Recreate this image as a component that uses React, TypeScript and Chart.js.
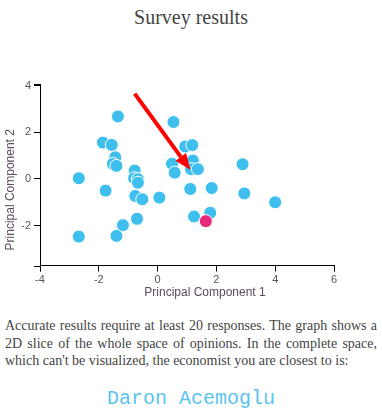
import React, { useEffect, useRef } from "react";
import { Chart, registerables } from "chart.js";

Chart.register(...registerables);

const BLUE_X = [-1.35, 0.54, -1.86, -1.56, -1.44, -1.52, -1.40, -2.68, -0.78, -0.80, -0.67, -0.67, -1.77, -0.76, -0.52, 0.06, -0.70, -1.18, -2.68, -1.40, 0.94, 1.18, 1.20, 0.49, 0.58, 1.14, 1.37, 1.11, 1.84, 2.89, 2.95, 4.00, 1.24, 1.79];
const BLUE_Y = [2.68, 2.44, 1.56, 1.46, 0.93, 0.65, 0.56, 0.03, 0.36, 0.03, -0.01, -0.16, -0.50, -0.73, -0.87, -0.80, -1.71, -1.98, -2.47, -2.44, 1.39, 1.45, 0.79, 0.65, 0.27, 0.42, 0.42, -0.43, -0.39, 0.63, -0.62, -1.00, -1.61, -1.45];
const PINK_X = [1.64];
const PINK_Y = [-1.81];
const ARROW_FROM = [-0.78, 3.66];
const ARROW_TO = [1.11, 0.39];
const X_TICKS = [-4, -2, 0, 2, 4, 6];
const Y_TICKS = [-2, 0, 2, 4];
const X_RANGE = [-4, 6];
const Y_RANGE = [-3.71, 4.07];
const X_TITLE = "Principal Component 1";
const Y_TITLE = "Principal Component 2";

const decorPlugin = {
  id: "decor",
  afterDatasetsDraw(chart: any) {
    const { ctx, scales } = chart;
    const xs = scales.x, ys = scales.y;
    const x1 = xs.getPixelForValue(ARROW_FROM[0]);
    const y1 = ys.getPixelForValue(ARROW_FROM[1]);
    const x2 = xs.getPixelForValue(ARROW_TO[0]);
    const y2 = ys.getPixelForValue(ARROW_TO[1]);
    const ang = Math.atan2(y2 - y1, x2 - x1);
    const headLen = 16, headHalf = 6.5;
    const bx = x2 - headLen * Math.cos(ang);
    const by = y2 - headLen * Math.sin(ang);
    ctx.save();
    ctx.strokeStyle = "#ff0000";
    ctx.fillStyle = "#ff0000";
    ctx.lineWidth = 4;
    ctx.beginPath();
    ctx.moveTo(x1, y1);
    ctx.lineTo(bx, by);
    ctx.stroke();
    ctx.beginPath();
    ctx.moveTo(x2, y2);
    ctx.lineTo(bx + headHalf * Math.sin(ang), by - headHalf * Math.cos(ang));
    ctx.lineTo(bx - headHalf * Math.sin(ang), by + headHalf * Math.cos(ang));
    ctx.closePath();
    ctx.fill();
    ctx.restore();
  },
  afterDraw(chart: any) {
    const { ctx, chartArea } = chart;
    const { left, right, top, bottom } = chartArea;
    ctx.save();
    ctx.strokeStyle = "#000";
    ctx.lineWidth = 1;
    ctx.beginPath();
    ctx.moveTo(left - 6, Math.round(top) + 0.5);
    ctx.lineTo(left, Math.round(top) + 0.5);
    ctx.moveTo(left - 6, Math.round(bottom) + 0.5);
    ctx.lineTo(left, Math.round(bottom) + 0.5);
    ctx.moveTo(Math.round(left) + 0.5, bottom);
    ctx.lineTo(Math.round(left) + 0.5, bottom + 6);
    ctx.moveTo(Math.round(right) + 0.5, bottom);
    ctx.lineTo(Math.round(right) + 0.5, bottom + 6);
    ctx.stroke();
    ctx.fillStyle = "#5c4a5e";
    ctx.font = "12px 'Liberation Sans', Arial, sans-serif";
    ctx.textAlign = "center";
    ctx.textBaseline = "middle";
    ctx.fillText(X_TITLE, (left + right) / 2 + 18, bottom + 27);
    ctx.translate(11, (top + bottom) / 2 + 15);
    ctx.rotate(-Math.PI / 2);
    ctx.fillText(Y_TITLE, 0, 0);
    ctx.restore();
  },
};

function ScatterChart() {
  const ref = useRef<HTMLCanvasElement | null>(null);
  useEffect(() => {
    if (!ref.current) return;
    const tickFont = { family: "'Liberation Sans', Arial, sans-serif", size: 11 };
    const chart = new Chart(ref.current, {
      type: "scatter",
      data: {
        datasets: [
          {
            data: PINK_X.map((x, i) => ({ x, y: PINK_Y[i] })),
            backgroundColor: "#e8297b",
            borderColor: "#ffffff",
            borderWidth: 1,
            pointRadius: 6.5,
            pointHoverRadius: 6.5,
          },
          {
            data: BLUE_X.map((x, i) => ({ x, y: BLUE_Y[i] })),
            backgroundColor: "#3fbfee",
            borderColor: "#ffffff",
            borderWidth: 1,
            pointRadius: 6.5,
            pointHoverRadius: 6.5,
          },
        ],
      },
      options: {
        animation: false,
        responsive: false,
        devicePixelRatio: 1,
        layout: { padding: { top: 44, right: 48, bottom: 0, left: 0 } },
        plugins: { legend: { display: false }, tooltip: { enabled: false }, title: { display: false } },
        scales: {
          x: {
            type: "linear",
            min: X_RANGE[0],
            max: X_RANGE[1],
            afterBuildTicks: (s: any) => { s.ticks = X_TICKS.map((v) => ({ value: v })); },
            afterFit: (s: any) => { s.height = 34.5; },
            grid: { display: true, drawOnChartArea: false, drawTicks: true, tickLength: 6, color: "#000" },
            border: { display: true, color: "#000", width: 1 },
            ticks: { color: "#555", font: tickFont, padding: 2, maxRotation: 0 },
          },
          y: {
            type: "linear",
            min: Y_RANGE[0],
            max: Y_RANGE[1],
            afterBuildTicks: (s: any) => { s.ticks = Y_TICKS.map((v) => ({ value: v })); },
            afterFit: (s: any) => { s.width = 40; },
            grid: { display: true, drawOnChartArea: false, drawTicks: true, tickLength: 6, color: "#000" },
            border: { display: true, color: "#000", width: 1 },
            ticks: { color: "#555", font: tickFont, padding: 3 },
          },
        },
      },
      plugins: [decorPlugin],
    } as any);
    return () => chart.destroy();
  }, []);
  return (
    <canvas
      ref={ref}
      width={382}
      height={260}
      style={{ position: "absolute", left: 0, top: 40, width: 382, height: 260 }}
    />
  );
}

export default function App() {
  return (
    <div style={{ position: "absolute", left: 0, top: 0, width: 382, height: 413, background: "#fff", overflow: "hidden" }}>
      <div
        style={{
          position: "absolute",
          left: 0,
          top: 6,
          width: 382,
          textAlign: "center",
          fontFamily: "'Liberation Serif', 'Times New Roman', serif",
          fontSize: 20,
          lineHeight: "23px",
          color: "#444",
        }}
      >
        Survey results
      </div>
      <ScatterChart />
      <div
        style={{
          position: "absolute",
          left: 5,
          top: 317,
          width: 372,
          textAlign: "justify",
          fontFamily: "'Liberation Serif', 'Times New Roman', serif",
          fontSize: 14,
          lineHeight: "17.5px",
          color: "#444",
        }}
      >
        Accurate results require at least 20 responses. The graph shows a 2D slice of the whole space of opinions. In the complete space, which can't be visualized, the economist you are closest to is:
      </div>
      <div
        style={{
          position: "absolute",
          left: 0,
          top: 387,
          width: 382,
          textAlign: "center",
          fontFamily: "'Liberation Mono', 'Courier New', monospace",
          fontSize: 20,
          lineHeight: "24px",
          color: "#5bc4f0",
        }}
      >
        Daron Acemoglu
      </div>
    </div>
  );
}
